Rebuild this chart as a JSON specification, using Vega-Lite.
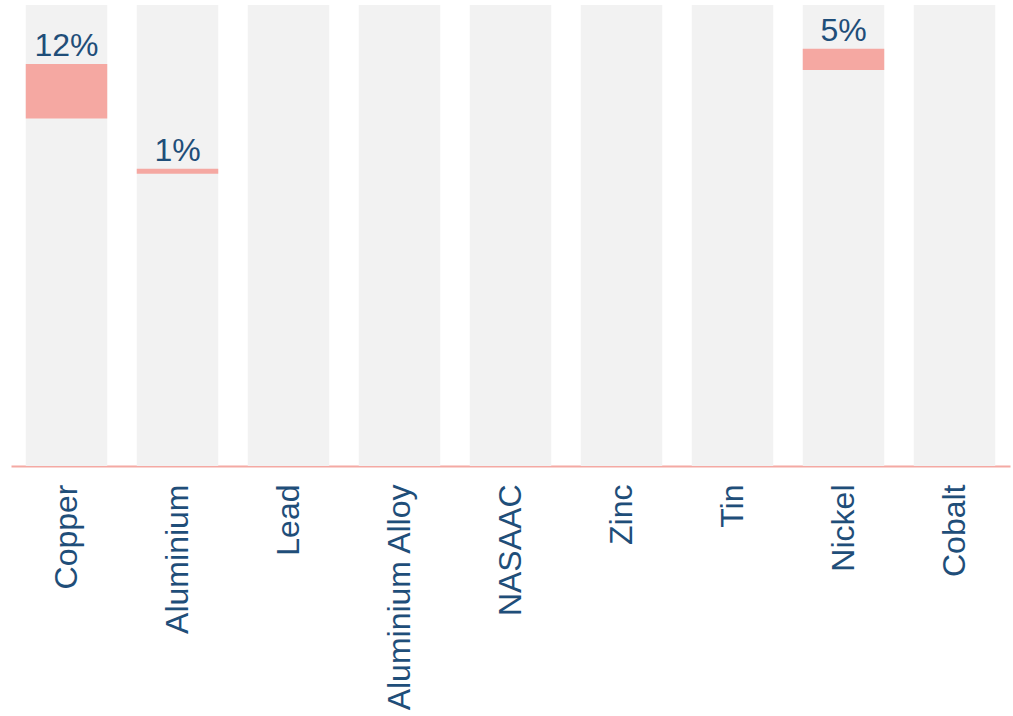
{
  "$schema": "https://vega.github.io/schema/vega-lite/v6.json",
  "autosize": "none",
  "width": 999,
  "height": 461,
  "padding": {"left": 11, "top": 5, "right": 3, "bottom": 250},
  "background": "white",
  "config": {"view": {"stroke": null}, "font": "Liberation Sans"},
  "data": {
    "values": [
      {"metal": "Copper", "total": 100, "low": 75.4, "high": 87.2, "label": "12%"},
      {"metal": "Aluminium", "total": 100, "low": 63.4, "high": 64.5, "label": "1%"},
      {"metal": "Lead", "total": 100, "low": null, "high": null, "label": null},
      {"metal": "Aluminium Alloy", "total": 100, "low": null, "high": null, "label": null},
      {"metal": "NASAAC", "total": 100, "low": null, "high": null, "label": null},
      {"metal": "Zinc", "total": 100, "low": null, "high": null, "label": null},
      {"metal": "Tin", "total": 100, "low": null, "high": null, "label": null},
      {"metal": "Nickel", "total": 100, "low": 85.9, "high": 90.5, "label": "5%"},
      {"metal": "Cobalt", "total": 100, "low": null, "high": null, "label": null}
    ]
  },
  "encoding": {
    "x": {
      "field": "metal",
      "type": "nominal",
      "sort": null,
      "scale": {"paddingInner": 0.266, "paddingOuter": 0.133},
      "axis": {
        "title": null,
        "labelAngle": -90,
        "labelFontSize": 32,
        "labelColor": "#1F4E79",
        "labelPadding": 18,
        "labelLimit": 0,
        "ticks": false,
        "domainColor": "#F4A9A3",
        "domainWidth": 2,
        "labelFont": "Liberation Sans"
      }
    }
  },
  "layer": [
    {
      "mark": {"type": "bar", "color": "#F2F2F2"},
      "encoding": {
        "y": {"field": "total", "type": "quantitative", "scale": {"domain": [0, 100], "nice": false}, "axis": null}
      }
    },
    {
      "mark": {"type": "bar", "color": "#F5A8A2"},
      "encoding": {
        "y": {"field": "low", "type": "quantitative"},
        "y2": {"field": "high"}
      }
    },
    {
      "mark": {"type": "text", "fontSize": 32, "color": "#1F4E79", "baseline": "alphabetic", "dy": -8, "font": "Liberation Sans"},
      "encoding": {
        "y": {"field": "high", "type": "quantitative"},
        "text": {"field": "label"}
      }
    }
  ]
}
